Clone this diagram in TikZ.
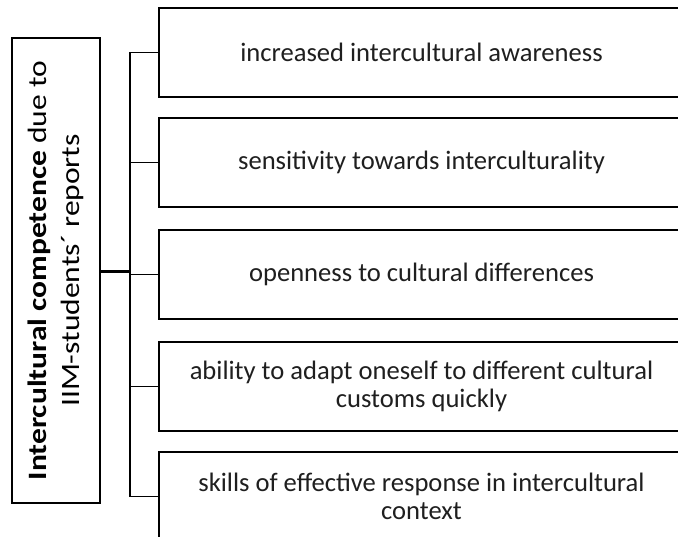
\documentclass[tikz,border=0pt]{standalone}
\usepackage{fontspec}
\setmainfont{Carlito}
\newfontfamily\widefont[FakeStretch=1.19]{Carlito}
\begin{document}
\begin{tikzpicture}[x=1pt,y=-1pt,
  item/.style={draw=black,line width=2pt,minimum width=525pt,minimum height=89pt,align=center,inner sep=0pt,
    font=\fontsize{26.6}{28.5}\selectfont,text=black!88},
  main/.style={draw=black,line width=2pt,rotate=90,minimum width=465pt,minimum height=88pt,align=center,inner sep=0pt,
    font=\widefont\fontsize{26.5}{33}\selectfont,text=black},
  conn/.style={line width=1.6pt,black},
  stub/.style={line width=3pt,black}]
\useasboundingbox (0,0) rectangle (678,537);
\clip (0,0) rectangle (678,537);
\fill[white] (0,0) rectangle (678,537);
\node[main] (m) at (56,270.5) {\textbf{Intercultural competence} due to\\IIM-students´ reports};
\node[item] (b1) at (421.5,52.5) {increased intercultural awareness};
\node[item] (b2) at (421.5,162.5) {sensitivity towards interculturality};
\node[item] (b3) at (421.5,274.5) {openness to cultural differences};
\node[item] (b4) at (421.5,386.5) {ability to adapt oneself to different cultural\\customs quickly};
\node[item] (b5) at (421.5,496.5) {skills of effective response in intercultural\\context};
\coordinate (bx) at (130,272);
\draw[stub] (m.south |- bx) -- (bx);
\draw[conn] (bx |- b1.west) -- (bx |- b5.west);
\foreach \b in {b1,b2,b3,b4,b5} \draw[conn] (bx |- \b.west) -- (\b.west);
\end{tikzpicture}
\end{document}
